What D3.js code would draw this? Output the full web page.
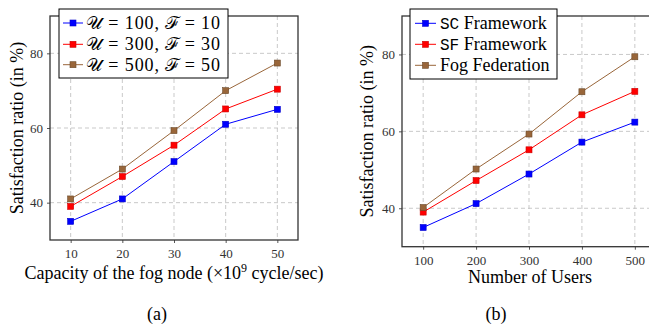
<!DOCTYPE html>
<html>
<head>
<meta charset="utf-8">
<script src="https://cdn.jsdelivr.net/npm/d3@7"></script>
<style>
  body { margin: 0; background: #fff; }
  svg { display: block; }
</style>
</head>
<body>
<script>
// ----- data -----
const capacity = [10, 20, 30, 40, 50];
const capU100 = [35, 41, 51, 61, 65];
const capU300 = [39, 47, 55.4, 65.1, 70.4];
const capU500 = [41, 49, 59.3, 70, 77.4];

const users = [100, 200, 300, 400, 500];
const scFramework = [35, 41.2, 48.9, 57.2, 62.4];
const sfFramework = [39, 47.2, 55.2, 64.3, 70.4];
const fogFederation = [40.2, 50.2, 59.3, 70.3, 79.4];

const yTicks = [40, 60, 80];

const colors = {blue: "#0000ff", red: "#ff0000", brown: "#99663a"};
const strokes = {blue: "#0000cc", red: "#cc0000", brown: "#6b4a2a"};
const serif = "'Liberation Serif'";

const width = 649, height = 325;

const svg = d3.select("body").append("svg")
    .attr("width", width)
    .attr("height", height)
    .attr("viewBox", [0, 0, width, height]);

function panel(opts) {
  const x = d3.scaleLinear(opts.xDomain, [opts.left, opts.right]);
  const y = d3.scaleLinear([30, 90], [opts.bottom, opts.top]);
  const g = svg.append("g");

  // grid
  g.append("g")
      .attr("stroke", "#bbb")
      .attr("stroke-dasharray", "4,3")
      .attr("stroke-width", 0.8)
      .call(gg => gg.selectAll("line.v").data(opts.xTicks).join("line")
          .attr("x1", d => x(d)).attr("x2", d => x(d))
          .attr("y1", opts.top).attr("y2", opts.bottom))
      .call(gg => gg.selectAll("line.h").data(yTicks).join("line")
          .attr("x1", opts.left).attr("x2", opts.right)
          .attr("y1", d => y(d)).attr("y2", d => y(d)));

  // axes
  const xAxis = g.append("g")
      .attr("transform", `translate(0,${opts.bottom})`)
      .call(d3.axisBottom(x).tickValues(opts.xTicks).tickSize(3).tickPadding(6));
  const yAxis = g.append("g")
      .attr("transform", `translate(${opts.left},0)`)
      .call(d3.axisLeft(y).tickValues(yTicks).tickSize(3).tickPadding(4));
  [xAxis, yAxis].forEach(a => {
    a.attr("font-family", null).attr("font-size", null);
    a.select(".domain").remove();
    a.selectAll("line").attr("stroke", "#555");
    a.selectAll("text")
        .attr("fill", "#333")
        .style("font-size", "13px")
        .style("font-family", serif);
  });

  // frame
  g.append("rect")
      .attr("x", opts.left).attr("y", opts.top)
      .attr("width", opts.right - opts.left)
      .attr("height", opts.bottom - opts.top)
      .attr("fill", "none")
      .attr("stroke", "#333")
      .attr("stroke-width", 1.3);

  // series
  const line = d3.line().x(d => x(d[0])).y(d => y(d[1]));
  opts.series.forEach(s => {
    const pts = opts.xTicks.map((v, i) => [v, s.values[i]]);
    g.append("path")
        .attr("d", line(pts))
        .attr("fill", "none")
        .attr("stroke", colors[s.color])
        .attr("stroke-width", 1);
    g.selectAll(null).data(pts).join("rect")
        .attr("x", d => x(d[0]) - 3).attr("y", d => y(d[1]) - 3)
        .attr("width", 6).attr("height", 6)
        .attr("fill", colors[s.color])
        .attr("stroke", strokes[s.color])
        .attr("stroke-width", 0.6);
  });

  // legend
  const L = opts.legend;
  const lg = g.append("g");
  lg.append("rect")
      .attr("x", L.x0).attr("y", L.y0)
      .attr("width", L.x1 - L.x0).attr("height", L.y1 - L.y0)
      .attr("fill", "#fff").attr("stroke", "#000").attr("stroke-width", 1);
  opts.series.forEach((s, i) => {
    const yy = L.rows[i];
    lg.append("line")
        .attr("x1", L.lx0).attr("x2", L.lx1)
        .attr("y1", yy).attr("y2", yy)
        .attr("stroke", colors[s.color]).attr("stroke-width", 1);
    lg.append("rect")
        .attr("x", (L.lx0 + L.lx1) / 2 - 3).attr("y", yy - 3)
        .attr("width", 6).attr("height", 6)
        .attr("fill", colors[s.color])
        .attr("stroke", strokes[s.color]).attr("stroke-width", 0.6);
    const t = lg.append("text")
        .attr("x", L.tx).attr("y", yy + 6)
        .style("font-family", serif)
        .style("font-size", "18px");
    if (L.textLength) t.attr("textLength", L.textLength).attr("lengthAdjust", "spacing");
    s.label(t);
  });

  // axis titles
  g.append("text")
      .attr("transform", `translate(${opts.yLabelX},${(opts.top + opts.bottom) / 2}) rotate(-90)`)
      .attr("text-anchor", "middle")
      .attr("dy", "0.35em")
      .style("font-family", serif)
      .style("font-size", "18px")
      .text("Satisfaction ratio (in %)");
  const xt = g.append("text")
      .attr("x", opts.xLabelX).attr("y", opts.xLabelY)
      .attr("text-anchor", "middle")
      .style("font-family", serif)
      .style("font-size", "18px");
  opts.xLabel(xt);
  g.append("text")
      .attr("x", opts.capX).attr("y", 320)
      .attr("text-anchor", "middle")
      .style("font-family", serif)
      .style("font-size", "18px")
      .text(opts.caption);
}

function mathLabel(u, f) {
  return t => {
    t.append("tspan").text("\u{1D4B0}");
    t.append("tspan").text(` = ${u},  `);
    t.append("tspan").text("\u2131");
    t.append("tspan").text(` = ${f}`);
  };
}
function fwLabel(code) {
  return t => {
    t.append("tspan").style("font-family", "'Liberation Mono'").style("font-size", "16px").text(code);
    t.append("tspan").text(" Framework");
  };
}

panel({
  left: 50, right: 298, top: 16, bottom: 240,
  xDomain: [6, 54], xTicks: capacity,
  series: [
    {values: capU100, color: "blue", label: mathLabel(100, 10)},
    {values: capU300, color: "red", label: mathLabel(300, 30)},
    {values: capU500, color: "brown", label: mathLabel(500, 50)}
  ],
  legend: {x0: 59, x1: 228, y0: 9, y1: 78, rows: [23, 44.3, 64.7], lx0: 63, lx1: 83, tx: 86, textLength: 134},
  yLabelX: 17,
  xLabelX: 174, xLabelY: 279,
  xLabel: t => {
    t.append("tspan").text("Capacity of the fog node (\u00d710");
    t.append("tspan").attr("dy", -7).style("font-size", "12px").text("9");
    t.append("tspan").attr("dy", 7).text(" cycle/sec)");
  },
  capX: 157, caption: "(a)"
});

panel({
  left: 402, right: 656, top: 16, bottom: 246.7,
  xDomain: [60, 540], xTicks: users,
  series: [
    {values: scFramework, color: "blue", label: fwLabel("SC")},
    {values: sfFramework, color: "red", label: fwLabel("SF")},
    {values: fogFederation, color: "brown", label: t => t.text("Fog Federation")}
  ],
  legend: {x0: 410, x1: 557, y0: 9, y1: 79, rows: [23.3, 44.3, 65.3], lx0: 415, lx1: 436, tx: 440},
  yLabelX: 367,
  xLabelX: 530, xLabelY: 283,
  xLabel: t => t.text("Number of Users"),
  capX: 496, caption: "(b)"
});
</script>
</body>
</html>
